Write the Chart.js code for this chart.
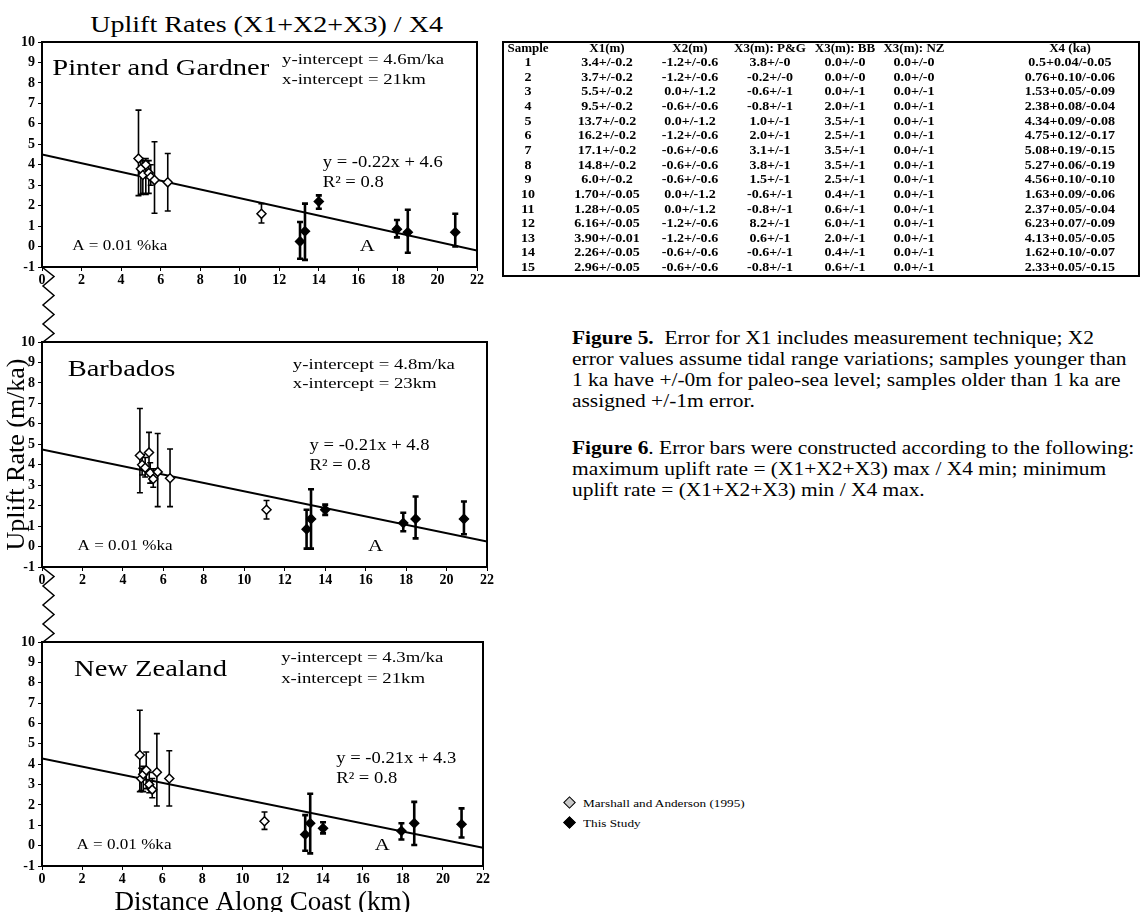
<!DOCTYPE html>
<html><head><meta charset="utf-8">
<script src="https://cdn.jsdelivr.net/npm/chart.js@4.4.1/dist/chart.umd.min.js"></script>
<style>
html,body{margin:0;padding:0;background:#fff;width:1144px;height:912px;overflow:hidden;position:relative;font-family:"Liberation Serif","Times New Roman",serif;color:#000}
.abs{position:absolute}
canvas{position:absolute;left:0}
.cell{position:absolute;width:140px;text-align:center;font-weight:bold;font-size:13px;line-height:14px;white-space:nowrap;transform:scaleX(1.08)}
.cell.hd{transform:scaleX(1.0)}
.cap{position:absolute;left:572px;font-size:18px;line-height:21px;white-space:pre;transform:scaleX(1.19);transform-origin:left center}
.leg{position:absolute;left:583px;font-size:11px;line-height:14px;white-space:nowrap;transform:scaleX(1.2);transform-origin:left center}
.dia{position:absolute;width:7px;height:7px;transform:rotate(45deg);border:1.5px solid #000}
</style></head><body>
<div class="abs" style="left:0;top:10px;width:534px;text-align:center;font-size:23px;line-height:30px;"><span id="mainTitle" style="display:inline-block;transform:scaleX(1.22)"></span></div>
<canvas id="c1" width="500" height="342" style="top:0"></canvas>
<canvas id="c2" width="500" height="342" style="top:300px"></canvas>
<canvas id="c3" width="500" height="316" style="top:600px"></canvas>
<div id="table" class="abs" style="left:502px;top:41px;width:638px;height:236px;box-sizing:border-box;border:2px solid #000"></div>
<div id="captions"></div>
<div id="legend"></div>
<script>
// ---------- text ----------
const mainTitle = "Uplift Rates (X1+X2+X3) / X4";
const yAxisTitle = "Uplift Rate (m/ka)";
const xAxisTitle = "Distance Along Coast (km)";
const seriesNames = ["Marshall and Anderson (1995)", "This Study"];

// ---------- axis ----------
const xMin = 0, xMax = 22, xStep = 2;
const yMin = -1, yMax = 10, yStep = 1;

// ---------- Panel 1: Pinter and Gardner ----------
const pgLabels = ["Pinter and Gardner", "y-intercept = 4.6m/ka", "x-intercept = 21km", "y = -0.22x + 4.6", "R\u00B2 = 0.8", "A = 0.01 %ka", "A"];
const pgMarshallX  = [4.88, 5.0, 5.1, 5.25, 5.4, 5.5, 5.69, 6.36, 11.1];
const pgMarshallY  = [4.3, 3.8, 3.5, 4.0, 3.6, 3.4, 3.25, 3.14, 1.6];
const pgMarshallHi = [6.67, 4.3, 4.2, 4.3, 4.2, 4.0, 5.12, 4.55, 2.1];
const pgMarshallLo = [2.49, 2.55, 2.6, 2.55, 2.6, 3.0, 1.63, 1.74, 1.15];
const pgStudyX  = [13.05, 13.3, 14.0, 17.95, 18.5, 20.9];
const pgStudyY  = [0.25, 0.75, 2.2, 0.85, 0.7, 0.7];
const pgStudyHi = [1.2, 2.1, 2.5, 1.3, 1.8, 1.6];
const pgStudyLo = [-0.6, -0.65, 1.85, 0.45, -0.3, 0.0];
const pgTrendX = [0, 22];
const pgTrendY = [4.5, -0.2];

// ---------- Panel 2: Barbados ----------
const bbLabels = ["Barbados", "y-intercept = 4.8m/ka", "x-intercept = 23km", "y = -0.21x + 4.8", "R\u00B2 = 0.8", "A = 0.01 %ka", "A"];
const bbMarshallX  = [4.84, 4.95, 5.1, 5.29, 5.35, 5.5, 5.72, 6.33, 11.1];
const bbMarshallY  = [4.45, 4.0, 3.85, 4.6, 3.6, 3.3, 3.65, 3.34, 1.8];
const bbMarshallHi = [6.75, 4.5, 4.35, 5.58, 4.1, 3.8, 5.53, 4.77, 2.25];
const bbMarshallLo = [2.63, 3.5, 3.4, 3.6, 3.1, 2.9, 1.95, 1.95, 1.35];
const bbStudyX  = [13.08, 13.3, 14.0, 17.86, 18.47, 20.86];
const bbStudyY  = [0.85, 1.35, 1.8, 1.15, 1.35, 1.35];
const bbStudyHi = [1.8, 2.8, 2.05, 1.65, 2.45, 2.2];
const bbStudyLo = [-0.1, -0.1, 1.55, 0.75, 0.4, 0.6];
const bbTrendX = [0, 22];
const bbTrendY = [4.75, 0.24];

// ---------- Panel 3: New Zealand ----------
const nzLabels = ["New Zealand", "y-intercept = 4.3m/ka", "x-intercept = 21km", "y = -0.21x + 4.3", "R\u00B2 = 0.8", "A = 0.01 %ka", "A"];
const nzMarshallX  = [4.88, 4.95, 5.05, 5.2, 5.35, 5.5, 5.73, 6.35, 11.1];
const nzMarshallY  = [4.45, 3.3, 3.5, 3.7, 3.0, 2.75, 3.6, 3.3, 1.2];
const nzMarshallHi = [6.65, 3.8, 3.9, 4.6, 3.6, 3.3, 5.5, 4.66, 1.65];
const nzMarshallLo = [2.65, 2.7, 2.65, 2.8, 2.6, 2.35, 1.95, 1.95, 0.8];
const nzStudyX  = [13.13, 13.38, 14.02, 17.93, 18.57, 20.93];
const nzStudyY  = [0.55, 1.1, 0.85, 0.72, 1.1, 1.05];
const nzStudyHi = [1.5, 2.55, 1.15, 1.1, 2.15, 1.83];
const nzStudyLo = [-0.25, -0.38, 0.6, 0.3, 0.03, 0.4];
const nzTrendX = [0, 22];
const nzTrendY = [4.28, -0.1];

// ---------- Table ----------
const tableHeaders = ["Sample", "X1(m)", "X2(m)", "X3(m): P&G", "X3(m): BB", "X3(m): NZ", "X4 (ka)"];
const sampleIds = ["1","2","3","4","5","6","7","8","9","10","11","12","13","14","15"];
const x1Vals = ["3.4+/-0.2","3.7+/-0.2","5.5+/-0.2","9.5+/-0.2","13.7+/-0.2","16.2+/-0.2","17.1+/-0.2","14.8+/-0.2","6.0+/-0.2","1.70+/-0.05","1.28+/-0.05","6.16+/-0.05","3.90+/-0.01","2.26+/-0.05","2.96+/-0.05"];
const x2Vals = ["-1.2+/-0.6","-1.2+/-0.6","0.0+/-1.2","-0.6+/-0.6","0.0+/-1.2","-1.2+/-0.6","-0.6+/-0.6","-0.6+/-0.6","-0.6+/-0.6","0.0+/-1.2","0.0+/-1.2","-1.2+/-0.6","-1.2+/-0.6","-0.6+/-0.6","-0.6+/-0.6"];
const x3PgVals = ["3.8+/-0","-0.2+/-0","-0.6+/-1","-0.8+/-1","1.0+/-1","2.0+/-1","3.1+/-1","3.8+/-1","1.5+/-1","-0.6+/-1","-0.8+/-1","8.2+/-1","0.6+/-1","-0.6+/-1","-0.8+/-1"];
const x3BbVals = ["0.0+/-0","0.0+/-0","0.0+/-1","2.0+/-1","3.5+/-1","2.5+/-1","3.5+/-1","3.5+/-1","2.5+/-1","0.4+/-1","0.6+/-1","6.0+/-1","2.0+/-1","0.4+/-1","0.6+/-1"];
const x3NzVals = ["0.0+/-0","0.0+/-0","0.0+/-1","0.0+/-1","0.0+/-1","0.0+/-1","0.0+/-1","0.0+/-1","0.0+/-1","0.0+/-1","0.0+/-1","0.0+/-1","0.0+/-1","0.0+/-1","0.0+/-1"];
const x4Vals = ["0.5+0.04/-0.05","0.76+0.10/-0.06","1.53+0.05/-0.09","2.38+0.08/-0.04","4.34+0.09/-0.08","4.75+0.12/-0.17","5.08+0.19/-0.15","5.27+0.06/-0.19","4.56+0.10/-0.10","1.63+0.09/-0.06","2.37+0.05/-0.04","6.23+0.07/-0.09","4.13+0.05/-0.05","1.62+0.10/-0.07","2.33+0.05/-0.15"];

// ---------- Captions ----------
const fig5Title = "Figure 5.";
const fig5Lines = ["  Error for X1 includes measurement technique; X2", "error values assume tidal range variations; samples younger than", "1 ka have +/-0m for paleo-sea level; samples older than 1 ka are", "assigned +/-1m error."];
const fig6Title = "Figure 6";
const fig6Lines = [". Error bars were constructed according to the following:", "maximum uplift rate = (X1+X2+X3) max / X4 min; minimum", "uplift rate = (X1+X2+X3) min / X4 max."];

// =====================================================================
const SERIF = '"Liberation Serif","Times New Roman",serif';
function pts(xs, ys, his, los) { return xs.map((x, i) => ({x: x, y: ys[i], hi: his ? his[i] : null, lo: los ? los[i] : null})); }

const errorBarPlugin = {
  id: 'errorBars',
  beforeDatasetsDraw(chart) {
    const ctx = chart.ctx, xs = chart.scales.x, ys = chart.scales.y;
    chart.data.datasets.forEach(ds => {
      if (!ds.errorBars) return;
      ctx.save();
      ctx.strokeStyle = '#000';
      ctx.lineWidth = ds.errorLineWidth;
      ds.data.forEach(p => {
        const px = xs.getPixelForValue(p.x), pt = ys.getPixelForValue(p.hi), pb = ys.getPixelForValue(p.lo);
        ctx.beginPath();
        ctx.moveTo(px, pt); ctx.lineTo(px, pb);
        ctx.moveTo(px - 3, pt); ctx.lineTo(px + 3, pt);
        ctx.moveTo(px - 3, pb); ctx.lineTo(px + 3, pb);
        ctx.stroke();
      });
      ctx.restore();
    });
  }
};

const decorPlugin = {
  id: 'decor',
  afterDraw(chart, args, opts) {
    const ctx = chart.ctx, a = chart.chartArea, xs = chart.scales.x, ys = chart.scales.y;
    ctx.save();
    ctx.strokeStyle = '#000'; ctx.lineWidth = 2;
    ctx.strokeRect(a.left, a.top, a.right - a.left, a.bottom - a.top);
    if (opts.zigzag) {
      ctx.lineWidth = 1.5;
      ctx.beginPath();
      let yy = a.bottom, k = 0;
      ctx.moveTo(a.left, yy);
      while (yy < chart.height) {
        yy += 9.5; k++;
        ctx.lineTo(a.left + (k % 2 ? 12 : 1), Math.min(yy, chart.height));
      }
      ctx.stroke();
    }
    (opts.texts || []).forEach(t => {
      ctx.save();
      ctx.fillStyle = '#000';
      ctx.font = (t.weight || 'normal') + ' ' + t.size + 'px ' + SERIF;
      ctx.textBaseline = 'middle';
      ctx.textAlign = 'left';
      ctx.translate(xs.getPixelForValue(t.x), ys.getPixelForValue(t.y));
      ctx.scale(t.sx || 1, 1);
      ctx.fillText(t.text, 0, 0);
      ctx.restore();
    });
    ctx.restore();
  }
};

function textLayout(labels, pos) {
  const sizes = [23, 15, 15, 16, 16, 14, 17];
  const sx = [1.24, 1.25, 1.25, 1.16, 1.16, 1.22, 1.22];
  return labels.map((t, i) => ({text: t, x: pos[i][0], y: pos[i][1], size: sizes[i], sx: sx[i]}));
}

function makeChart(id, d, lay) {
  return new Chart(document.getElementById(id), {
    type: 'scatter',
    data: {datasets: [
      {label: seriesNames[0], data: pts(d.mx, d.my, d.mhi, d.mlo), pointStyle: 'rectRot', pointRadius: 4.5, pointHoverRadius: 4.5,
       backgroundColor: '#fff', borderColor: '#000', borderWidth: 1.5, errorBars: true, errorLineWidth: 1.6},
      {label: seriesNames[1], data: pts(d.sx, d.sy, d.shi, d.slo), pointStyle: 'rectRot', pointRadius: 4.5, pointHoverRadius: 4.5,
       backgroundColor: '#000', borderColor: '#000', borderWidth: 1.5, errorBars: true, errorLineWidth: 2.6},
      {label: 'trend', data: pts(d.tx, d.ty), showLine: true, pointRadius: 0, borderColor: '#000', borderWidth: 2, fill: false}
    ]},
    options: {
      responsive: false, animation: false, events: [],
      layout: {padding: lay.padding},
      plugins: {legend: {display: false}, tooltip: {enabled: false}, title: {display: false},
                decor: {zigzag: lay.zigzag, texts: lay.texts}},
      scales: {
        x: {type: 'linear', min: xMin, max: xMax,
            ticks: {stepSize: xStep, color: '#000', font: {family: SERIF, size: 14, weight: 'bold'}, padding: 1, maxRotation: 0},
            grid: {display: true, drawOnChartArea: false, drawTicks: true, tickLength: 4, color: '#000'},
            border: {display: false},
            title: {display: !!lay.xTitle, text: xAxisTitle, color: '#000', font: {family: SERIF, size: 27, lineHeight: 1.0}, padding: {top: 0, bottom: 0}},
            afterFit: s => { s.height = lay.xh; }},
        y: {type: 'linear', min: yMin, max: yMax,
            ticks: {stepSize: yStep, color: '#000', font: {family: SERIF, size: 14, weight: 'bold'}, padding: 3},
            grid: {display: true, drawOnChartArea: false, drawTicks: true, tickLength: 4, color: '#000'},
            border: {display: false},
            title: {display: !!lay.yTitle, text: yAxisTitle, color: '#000', font: {family: SERIF, size: 26}, padding: {top: 2, bottom: 0}},
            afterFit: s => { s.width = 42; }}
      }
    },
    plugins: [errorBarPlugin, decorPlugin]
  });
}

makeChart('c1',
  {mx: pgMarshallX, my: pgMarshallY, mhi: pgMarshallHi, mlo: pgMarshallLo, sx: pgStudyX, sy: pgStudyY, shi: pgStudyHi, slo: pgStudyLo, tx: pgTrendX, ty: pgTrendY},
  {padding: {top: 42, bottom: 53, left: 0, right: 23}, xh: 22, zigzag: true,
   texts: textLayout(pgLabels, [[0.52, 8.67], [12.14, 9.1], [12.14, 8.13], [14.2, 4.07], [14.2, 3.1], [1.53, 0], [16.07, 0]])});
makeChart('c2',
  {mx: bbMarshallX, my: bbMarshallY, mhi: bbMarshallHi, mlo: bbMarshallLo, sx: bbStudyX, sy: bbStudyY, shi: bbStudyHi, slo: bbStudyLo, tx: bbTrendX, ty: bbTrendY},
  {padding: {top: 42, bottom: 53, left: 0, right: 13}, xh: 22, zigzag: true, yTitle: true,
   texts: textLayout(bbLabels, [[1.27, 8.65], [12.4, 8.86], [12.4, 7.94], [13.23, 4.93], [13.23, 3.95], [1.76, 0], [16.12, 0]])});
makeChart('c3',
  {mx: nzMarshallX, my: nzMarshallY, mhi: nzMarshallHi, mlo: nzMarshallLo, sx: nzStudyX, sy: nzStudyY, shi: nzStudyHi, slo: nzStudyLo, tx: nzTrendX, ty: nzTrendY},
  {padding: {top: 42, bottom: 0, left: 0, right: 17}, xh: 50, zigzag: false, xTitle: true,
   texts: textLayout(nzLabels, [[1.6, 8.61], [11.93, 9.19], [11.93, 8.2], [14.68, 4.25], [14.68, 3.3], [1.72, 0], [16.6, 0]])});

// ---------- HTML parts ----------
document.getElementById('mainTitle').textContent = mainTitle;

(function buildTable() {
  const tb = document.getElementById('table');
  const colCenters = [24, 103, 186, 266, 341, 410, 566];
  const cols = [sampleIds, x1Vals, x2Vals, x3PgVals, x3BbVals, x3NzVals, x4Vals];
  function add(txt, cx, cy, hd) {
    const d = document.createElement('div');
    d.className = hd ? 'cell hd' : 'cell';
    d.style.left = (cx - 70) + 'px';
    d.style.top = (cy - 7) + 'px';
    d.textContent = txt;
    tb.appendChild(d);
  }
  tableHeaders.forEach((h, j) => add(h, colCenters[j], 5, true));
  sampleIds.forEach((s, i) => {
    const cy = 19 + i * 14.65;
    cols.forEach((c, j) => add(c[i], colCenters[j], cy, false));
  });
})();

(function buildCaptions() {
  const box = document.getElementById('captions');
  function line(html, top) {
    const d = document.createElement('div');
    d.className = 'cap';
    d.style.top = top + 'px';
    d.innerHTML = html;
    box.appendChild(d);
  }
  const esc = s => s.replace(/&/g, '&amp;').replace(/</g, '&lt;');
  fig5Lines.forEach((l, i) => line((i === 0 ? '<b>' + fig5Title + '</b>' : '') + esc(l), 327.5 + i * 21));
  fig6Lines.forEach((l, i) => line((i === 0 ? '<b>' + fig6Title + '</b>' : '') + esc(l), 437.5 + i * 21));
})();

(function buildLegend() {
  const box = document.getElementById('legend');
  const fills = ['#c8c8c8', '#000'];
  const ys = [803, 823];
  seriesNames.forEach((n, i) => {
    const dm = document.createElement('div');
    dm.className = 'dia';
    dm.style.left = (570 - 5) + 'px';
    dm.style.top = (ys[i] - 5) + 'px';
    dm.style.background = fills[i];
    box.appendChild(dm);
    const t = document.createElement('div');
    t.className = 'leg';
    t.style.top = (ys[i] - 7) + 'px';
    t.textContent = n;
    box.appendChild(t);
  });
})();
</script>
</body></html>
